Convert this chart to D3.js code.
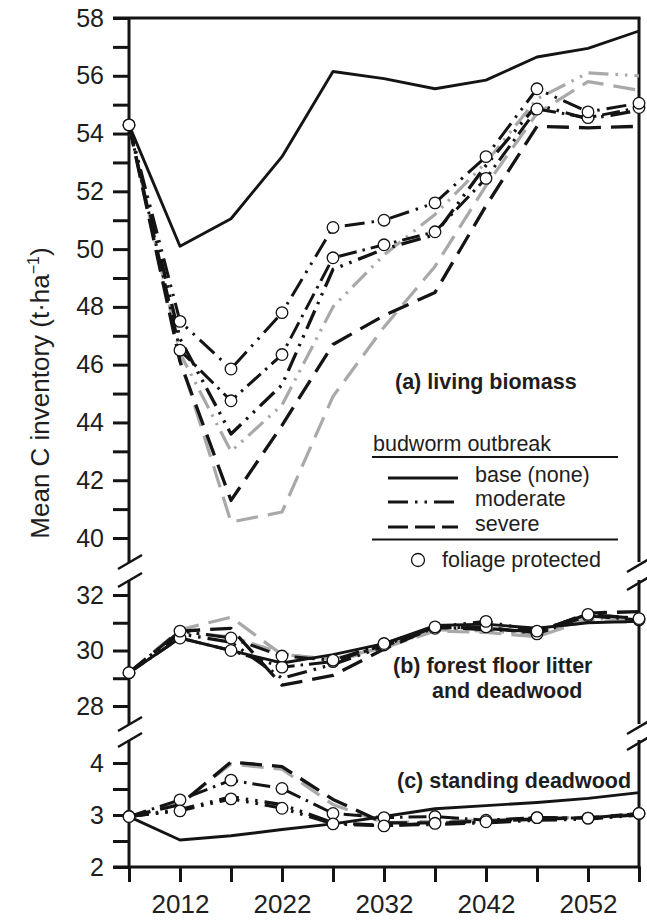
<!DOCTYPE html>
<html>
<head>
<meta charset="utf-8">
<script src="https://cdn.jsdelivr.net/npm/d3@7"></script>
<style>
  html, body { margin: 0; background: #fff; }
  svg text { font-family: "Liberation Sans", Arial, sans-serif; fill: #1e1e1e; }
</style>
</head>
<body>
<div id="chart"></div>
<script>
const years = [2007, 2012, 2017, 2022, 2027, 2032, 2037, 2042, 2047, 2052, 2057];
const xTickLabels = [2012, 2022, 2032, 2042, 2052];

// (a) living biomass
const aBase     = [54.3, 50.1, 51.05, 53.2, 56.15, 55.9, 55.55, 55.85, 56.65, 56.95, 57.55];
const aModBlack = [54.3, 46.9, 43.6, 45.3, 49.3, 50.0, 50.5, 52.9, 55.0, 54.5, 54.8];
const aModGray  = [54.3, 46.4, 43.0, 44.6, 48.0, 49.8, 51.2, 53.0, 55.2, 56.1, 56.0];
const aSevBlack = [54.3, 46.1, 41.3, 43.9, 46.7, 47.7, 48.5, 51.5, 54.25, 54.2, 54.25];
const aSevGray  = [54.3, 46.2, 40.55, 40.9, 44.9, 47.3, 49.4, 52.2, 54.7, 55.8, 55.5];
const aModProt  = [54.3, 47.5, 45.85, 47.8, 50.75, 51.0, 51.6, 53.2, 55.55, 54.75, 55.05];
const aSevProt  = [54.3, 46.5, 44.75, 46.35, 49.7, 50.15, 50.6, 52.45, 54.85, 54.55, 54.9];

// (b) forest floor litter and deadwood
const bBase     = [29.2, 30.45, 30.0, 29.55, 29.85, 30.25, 30.9, 30.95, 30.8, 31.0, 31.05];
const bModBlack = [29.2, 30.6, 30.3, 29.0, 29.5, 30.15, 30.85, 30.75, 30.7, 31.3, 31.15];
const bModGray  = [29.2, 30.65, 30.5, 29.9, 29.6, 30.1, 30.75, 30.7, 30.6, 31.15, 31.1];
const bSevBlack = [29.2, 30.7, 30.8, 28.75, 29.1, 30.05, 30.85, 30.8, 30.65, 31.35, 31.4];
const bSevGray  = [29.2, 30.75, 31.2, 29.85, 29.7, 30.1, 30.7, 30.65, 30.5, 31.1, 31.0];
const bModProt  = [29.2, 30.7, 30.45, 29.8, 29.65, 30.25, 30.85, 31.05, 30.7, 31.3, 31.15];
const bSevProt  = [29.2, 30.45, 30.0, 29.4, 29.6, 30.2, 30.8, 30.85, 30.6, 31.25, 31.1];

// (c) standing deadwood
const cBase     = [2.97, 2.52, 2.6, 2.72, 2.83, 2.97, 3.12, 3.18, 3.24, 3.32, 3.43];
const cModBlack = [2.97, 3.1, 3.35, 3.2, 2.85, 2.8, 2.82, 2.85, 2.9, 2.92, 3.0];
const cModGray  = [2.97, 3.12, 3.3, 3.15, 2.82, 2.8, 2.85, 2.88, 2.92, 2.95, 3.02];
const cSevBlack = [2.97, 3.2, 4.02, 3.93, 3.3, 2.85, 2.85, 2.88, 2.92, 2.95, 3.0];
const cSevGray  = [2.97, 3.22, 3.98, 3.88, 3.2, 2.85, 2.88, 2.9, 2.93, 2.96, 3.02];
const cModProt  = [2.97, 3.08, 3.31, 3.13, 2.83, 2.79, 2.84, 2.87, 2.95, 2.94, 3.03];
const cSevProt  = [2.97, 3.29, 3.67, 3.51, 3.03, 2.95, 2.97, 2.9, 2.95, 2.94, 3.03];

const W = 647, H = 922;
const BLACK = '#141414', GRAY = '#a9a9a9';
const DDOT = '20,7,2.5,7,2.5,7';
const DASH = '22,10';

// draw order: gray first, black, base, then circles on top
const styles = [
  { key: 'modGray', color: GRAY, dash: DDOT, w: 3.2 },
  { key: 'sevGray', color: GRAY, dash: DASH, w: 3.2 },
  { key: 'sevBlack', color: BLACK, dash: DASH, w: 3.3 },
  { key: 'modBlack', color: BLACK, dash: DDOT, w: 3.3 },
  { key: 'sevProt', color: BLACK, dash: '18,6,2.5,6', w: 3, circles: true },
  { key: 'modProt', color: BLACK, dash: DDOT, w: 3, circles: true },
  { key: 'base', color: BLACK, dash: null, w: 2.9 },
];

const x = d3.scaleLinear().domain([2007, 2057]).range([129, 639]);

const panels = [
  {
    y: d3.scaleLinear().domain([40, 58]).range([538, 18]),
    ticks: d3.range(40, 59, 1), labelled: (d) => d % 2 === 0,
    axisTop: 18, axisBottom: 562,
    data: { base: aBase, modBlack: aModBlack, modGray: aModGray, sevBlack: aSevBlack, sevGray: aSevGray, modProt: aModProt, sevProt: aSevProt },
  },
  {
    y: d3.scaleLinear().domain([28, 32]).range([706, 595]),
    ticks: d3.range(28, 33, 1), labelled: (d) => d % 2 === 0,
    axisTop: 580, axisBottom: 724,
    data: { base: bBase, modBlack: bModBlack, modGray: bModGray, sevBlack: bSevBlack, sevGray: bSevGray, modProt: bModProt, sevProt: bSevProt },
  },
  {
    y: d3.scaleLinear().domain([2, 4]).range([867, 763]),
    ticks: d3.range(2, 4.01, 0.5), labelled: (d) => Number.isInteger(d),
    axisTop: 740, axisBottom: 867,
    data: { base: cBase, modBlack: cModBlack, modGray: cModGray, sevBlack: cSevBlack, sevGray: cSevGray, modProt: cModProt, sevProt: cSevProt },
  },
];

const svg = d3.select('#chart').append('svg').attr('width', W).attr('height', H).style('background', '#fff');

const x0 = x.range()[0], x1 = x.range()[1];

// frame pieces: top, left/right axis segments
svg.append('line').attr('x1', x0 - 16).attr('x2', x1 + 1.5).attr('y1', 18).attr('y2', 18)
  .attr('stroke', BLACK).attr('stroke-width', 3);

panels.forEach((p) => {
  [x0, x1].forEach((ax) => {
    svg.append('line').attr('x1', ax).attr('x2', ax).attr('y1', p.axisTop).attr('y2', p.axisBottom)
      .attr('stroke', BLACK).attr('stroke-width', 3);
  });

  const axis = d3.axisLeft(p.y).tickValues(p.ticks).tickSize(16).tickPadding(9)
    .tickFormat((d) => (p.labelled(d) ? d3.format('d')(d) : ''));
  const g = svg.append('g').attr('transform', `translate(${x0},0)`).call(axis);
  g.select('.domain').remove();
  g.selectAll('.tick line').attr('stroke', BLACK).attr('stroke-width', 3);
  g.selectAll('.tick text').attr('font-size', 25).attr('fill', '#1e1e1e')
    .attr('font-family', '"Liberation Sans", Arial, sans-serif');
});

// axis break marks
function brk(cx, cy) {
  svg.append('line').attr('x1', cx - 12).attr('y1', cy + 7).attr('x2', cx + 12).attr('y2', cy - 7)
    .attr('stroke', BLACK).attr('stroke-width', 2.6);
}
[[562, 580], [724, 740]].forEach(([a, b]) => {
  brk(x0 + 1, a); brk(x0 + 1, b);
  brk(x1, a + 3); brk(x1, b + 3);
});

// bottom axis
const xAxis = d3.axisBottom(x).tickValues(years).tickSize(15).tickPadding(13)
  .tickFormat((d) => (xTickLabels.includes(d) ? d : ''));
const gx = svg.append('g').attr('transform', 'translate(0,867)').call(xAxis);
gx.select('.domain').remove();
gx.selectAll('.tick line').attr('stroke', BLACK).attr('stroke-width', 3);
gx.selectAll('.tick text').attr('font-size', 26).attr('fill', '#1e1e1e')
  .attr('font-family', '"Liberation Sans", Arial, sans-serif');
svg.append('line').attr('x1', x0 - 16).attr('x2', x1 + 1.5).attr('y1', 867).attr('y2', 867)
  .attr('stroke', BLACK).attr('stroke-width', 3);

// series
panels.forEach((p) => {
  const line = d3.line().x((d, i) => x(years[i])).y((d) => p.y(d));
  styles.forEach((s) => {
    svg.append('path').datum(p.data[s.key])
      .attr('fill', 'none').attr('stroke', s.color).attr('stroke-width', s.w)
      .attr('stroke-dasharray', s.dash).attr('stroke-linejoin', 'round')
      .attr('d', line);
  });
  styles.filter((s) => s.circles).forEach((s) => {
    svg.append('g').selectAll('circle').data(p.data[s.key]).join('circle')
      .attr('cx', (d, i) => x(years[i])).attr('cy', (d) => p.y(d)).attr('r', 5.8)
      .attr('fill', '#fff').attr('stroke', BLACK).attr('stroke-width', 1.3);
  });
});

// panel labels
const lab = svg.append('g').attr('font-size', 21.5).attr('font-weight', 700);
lab.append('text').attr('x', 395).attr('y', 389).text('(a) living biomass');
lab.append('text').attr('x', 393).attr('y', 673).text('(b) forest floor litter');
lab.append('text').attr('x', 432).attr('y', 698).text('and deadwood');
lab.append('text').attr('x', 397).attr('y', 788).text('(c) standing deadwood');

// legend
const lg = svg.append('g').attr('font-size', 21.5);
lg.append('text').attr('x', 373).attr('y', 451).text('budworm outbreak');
lg.append('line').attr('x1', 372).attr('x2', 618).attr('y1', 457).attr('y2', 457).attr('stroke', BLACK).attr('stroke-width', 2);
const legendItems = [
  { label: 'base (none)', dash: null, y: 478 },
  { label: 'moderate', dash: DDOT, y: 502 },
  { label: 'severe', dash: '20,7', y: 527 },
];
legendItems.forEach((it) => {
  lg.append('line').attr('x1', 388).attr('x2', 458).attr('y1', it.y).attr('y2', it.y)
    .attr('stroke', BLACK).attr('stroke-width', 3).attr('stroke-dasharray', it.dash);
  lg.append('text').attr('x', 475).attr('y', it.y + 4).text(it.label);
});
lg.append('line').attr('x1', 372).attr('x2', 618).attr('y1', 539.5).attr('y2', 539.5).attr('stroke', BLACK).attr('stroke-width', 2);
lg.append('circle').attr('cx', 418).attr('cy', 560).attr('r', 6.5).attr('fill', '#fff').attr('stroke', BLACK).attr('stroke-width', 1.3);
lg.append('text').attr('x', 442).attr('y', 567).text('foliage protected');

// y axis title
const yt = svg.append('text').attr('transform', 'translate(49,393) rotate(-90)')
  .attr('text-anchor', 'middle').attr('font-size', 26);
yt.append('tspan').text('Mean C inventory (t·ha');
yt.append('tspan').attr('dy', -10).attr('font-size', 16).text('−1');
yt.append('tspan').attr('dy', 10).text(')');
</script>
</body>
</html>
